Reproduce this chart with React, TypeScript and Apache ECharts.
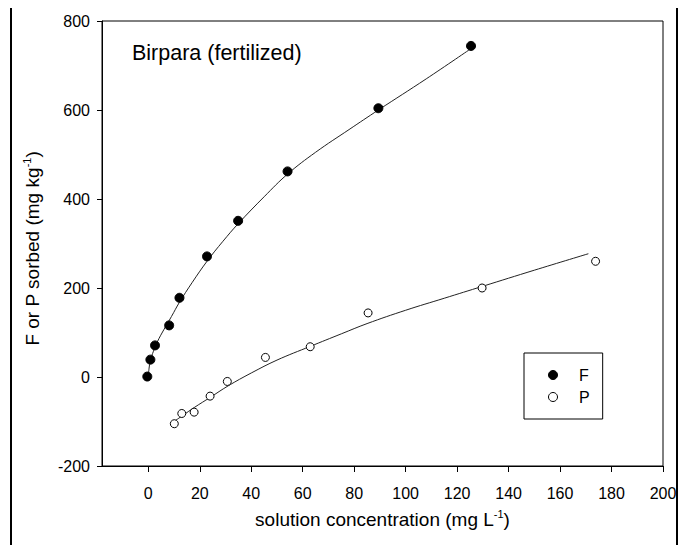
import React, { useEffect, useRef } from "react";
import * as echarts from "echarts";

const FONT = "Liberation Sans, Arial, sans-serif";

const titleText = "Birpara (fertilized)";
const xTicks = [0, 20, 40, 60, 80, 100, 120, 140, 160, 180, 200];

// measured points
const fPoints: [number, number][] = [
  [-0.4, 1], [0.8, 39], [2.6, 71], [8.1, 116], [12.1, 178],
  [22.8, 271], [34.9, 351], [54.1, 462], [89.4, 604], [125.4, 744],
];
const pPoints: [number, number][] = [
  [10.1, -105], [13, -82], [17.8, -79], [24, -43], [30.7, -10],
  [45.5, 44], [62.9, 68], [85.4, 144], [129.7, 200], [173.8, 260],
];

// fitted curves
const fCurve: [number, number][] = [
  [0, 3], [0.3, 20], [0.8, 37], [2, 58], [3.5, 79], [6, 106], [9, 136],
  [12.1, 168], [17, 212], [22.8, 260], [29, 305], [35, 345], [45, 405],
  [54.1, 456], [65, 505], [78, 556], [89.4, 600], [108, 670], [125.4, 738],
];
const pCurve: [number, number][] = [
  [9.5, -102], [13, -88], [18, -68], [24, -46], [31, -20], [40, 9],
  [50, 38], [63, 69], [75, 97], [85, 120], [100, 150], [115, 177],
  [130, 204], [150, 240], [171, 277],
];

export default function App() {
  const ref = useRef<HTMLDivElement>(null);
  useEffect(() => {
    if (!ref.current) return;
    const chart = echarts.init(ref.current, undefined, { renderer: "svg" });
    chart.setOption({
      animation: false,
      backgroundColor: "#fff",
      textStyle: { fontFamily: FONT, color: "#000" },
      title: {
        text: titleText,
        left: 127,
        top: 37,
        textStyle: { fontFamily: FONT, fontSize: 21.5, fontWeight: "normal", color: "#000" },
      },
      grid: {
        left: 102,
        right: 28,
        top: 21,
        bottom: 87,
        show: true,
        borderColor: "#000",
        borderWidth: 1,
        backgroundColor: "transparent",
      },
      legend: {
        orient: "vertical",
        left: 524,
        top: 353,
        padding: [14, 13, 14, 24],
        itemWidth: 42,
        itemHeight: 9,
        itemGap: 6,
        borderColor: "#000",
        borderWidth: 1,
        selectedMode: false,
        textStyle: { fontFamily: FONT, fontSize: 16, color: "#000", lineHeight: 16 },
        data: [
          { name: "F", icon: "circle", itemStyle: { color: "#000", borderColor: "#000", borderWidth: 1, opacity: 1 } },
          { name: "P", icon: "circle", itemStyle: { color: "#fff", borderColor: "#000", borderWidth: 1, opacity: 1 } },
        ],
      },
      xAxis: {
        type: "value",
        min: -18,
        max: 200,
        name: "solution concentration (mg L{s|-1})",
        nameLocation: "middle",
        nameGap: 42,
        nameTextStyle: {
          fontFamily: FONT,
          fontSize: 19,
          color: "#000",
          lineHeight: 22,
          rich: { s: { fontSize: 11, verticalAlign: "top", lineHeight: 22, fontFamily: FONT, color: "#000" } },
        },
        axisLine: { show: true, onZero: false, lineStyle: { color: "#000", width: 1 } },
        axisTick: { show: true, inside: false, length: 6, customValues: xTicks, lineStyle: { color: "#000" } },
        axisLabel: { customValues: xTicks, fontFamily: FONT, fontSize: 16, color: "#000", margin: 19 },
        splitLine: { show: false },
      },
      yAxis: {
        type: "value",
        min: -200,
        max: 800,
        interval: 200,
        name: "F or P sorbed (mg kg{s|-1})",
        nameLocation: "middle",
        nameGap: 59,
        nameTextStyle: {
          fontFamily: FONT,
          fontSize: 19,
          color: "#000",
          lineHeight: 22,
          padding: [0, 10, 0, 0],
          rich: { s: { fontSize: 11, verticalAlign: "top", lineHeight: 22, fontFamily: FONT, color: "#000" } },
        },
        axisLine: { show: true, onZero: false, lineStyle: { color: "#000", width: 1 } },
        axisTick: { show: true, inside: false, length: 5, lineStyle: { color: "#000" } },
        axisLabel: { fontFamily: FONT, fontSize: 16, color: "#000", margin: 12 },
        splitLine: { show: false },
      },
      graphic: [
        {
          type: "rect",
          shape: { x: 11, y: 4, width: 666, height: 546 },
          style: { fill: "none", stroke: "#000", lineWidth: 2 },
          silent: true,
          z: 100,
        },
      ],
      series: [
        {
          name: "F curve",
          type: "line",
          data: fCurve,
          smooth: 0.4,
          showSymbol: false,
          lineStyle: { color: "#222", width: 1 },
          silent: true,
        },
        {
          name: "P curve",
          type: "line",
          data: pCurve,
          smooth: 0.4,
          showSymbol: false,
          lineStyle: { color: "#222", width: 1 },
          silent: true,
        },
        {
          name: "F",
          type: "scatter",
          data: fPoints,
          symbol: "circle",
          symbolSize: 9,
          itemStyle: { color: "#000", borderColor: "#000", borderWidth: 1, opacity: 1 },
          z: 5,
        },
        {
          name: "P",
          type: "scatter",
          data: pPoints,
          symbol: "circle",
          symbolSize: 8,
          itemStyle: { color: "#fff", borderColor: "#000", borderWidth: 1, opacity: 1 },
          z: 5,
        },
      ],
    });
    return () => chart.dispose();
  }, []);
  return (
    <div style={{ position: "relative", width: 691, height: 553, margin: -8, background: "#fff" }}>
      <div ref={ref} style={{ position: "absolute", left: 0, top: 0, width: 691, height: 553 }} />
    </div>
  );
}
